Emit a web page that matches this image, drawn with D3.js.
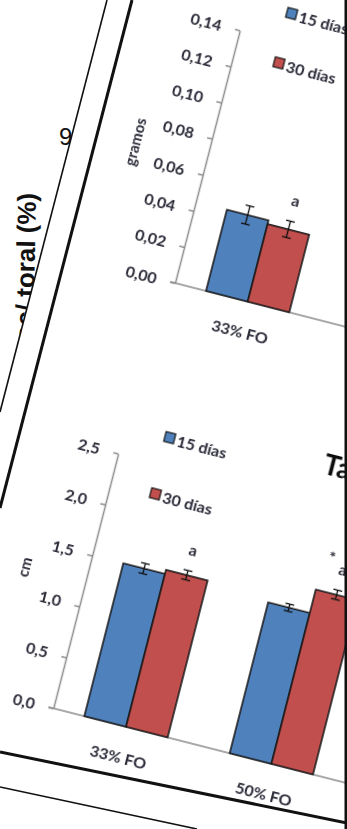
<!DOCTYPE html>
<html>
<head>
<meta charset="utf-8">
<script src="https://cdn.jsdelivr.net/npm/d3@7"></script>
<style>
  html, body { margin: 0; padding: 0; background: #fff; }
  svg { display: block; }
</style>
</head>
<body>
<svg id="page" width="347" height="829"></svg>
<script>
// Shared categories and series
const categories = ["33% FO", "50% FO"];
const seriesNames = ["15 días", "30 días"];
const seriesColors = ["#4f81bd", "#c0504d"];

// Peso (gramos)
const pesoMedia15 = [0.045];
const pesoMedia30 = [0.043];
const pesoError15 = [0.005];
const pesoError30 = [0.0045];
const pesoTicks = [0, 0.02, 0.04, 0.06, 0.08, 0.10, 0.12, 0.14];
const pesoLetters = [{ cat: "33% FO", serie: "30 días", text: "a" }];

// Talla (cm)
const tallaMedia15 = [1.50, 1.48];
const tallaMedia30 = [1.54, 1.71];
const tallaError15 = [0.05, 0.035];
const tallaError30 = [0.045, 0.045];
const tallaTicks = [0, 0.5, 1.0, 1.5, 2.0, 2.5];
const tallaLetters = [
  { cat: "33% FO", serie: "30 días", text: "a" },
  { cat: "50% FO", serie: "30 días", text: "a" }
];
const tallaMarks = [{ cat: "50% FO", text: "*" }];

const svg = d3.select("#page");
svg.append("rect").attr("width", 347).attr("height", 829).attr("fill", "#fff");

const defs = svg.append("defs");
defs.append("filter").attr("id", "soft")
  .append("feGaussianBlur").attr("stdDeviation", 0.45);
defs.append("clipPath").attr("id", "leftPage")
  .append("polygon").attr("points", "0,0 107,0 0,412");

// Facing page, seen along the left margin
const leftPage = svg.append("g").attr("clip-path", "url(#leftPage)");
leftPage.append("text")
  .attr("x", 59).attr("y", 145)
  .attr("font-family", "Liberation Sans").attr("font-size", 24)
  .attr("fill", "#111").text("9");
leftPage.append("text")
  .attr("transform", "translate(36,193) rotate(-89)")
  .attr("text-anchor", "end")
  .attr("font-family", "Liberation Sans").attr("font-weight", "bold")
  .attr("font-size", 26).attr("fill", "#111")
  .text("sec/ toral (%)");

// Page edges and figure frame
const edges = svg.append("g").attr("stroke", "#111").attr("fill", "none");
edges.append("line").attr("x1", 107).attr("y1", 0).attr("x2", 0).attr("y2", 412).attr("stroke-width", 1.6);
edges.append("line").attr("x1", 132).attr("y1", 0).attr("x2", 0).attr("y2", 508).attr("stroke-width", 3);
edges.append("line").attr("x1", 0).attr("y1", 752).attr("x2", 347).attr("y2", 823).attr("stroke-width", 3);
edges.append("line").attr("x1", 0).attr("y1", 787).attr("x2", 197).attr("y2", 829).attr("stroke-width", 1.6);

function drawChart(cfg) {
  const g = svg.append("g")
    .attr("transform", `translate(${cfg.ox},${cfg.oy}) rotate(${cfg.angle})`)
    .attr("filter", "url(#soft)");

  const x0 = d3.scaleBand().domain(categories).range([0, 300])
    .paddingInner(0.427).paddingOuter(0.2135);
  const x1 = d3.scaleBand().domain(seriesNames).range([0, x0.bandwidth()]);
  const y = d3.scaleLinear().domain([0, cfg.max]).range([0, -cfg.height]);

  const fmt = v => d3.format(cfg.fmt)(v).replace(".", ",");
  const axis = d3.axisLeft(y).tickValues(cfg.ticks).tickSize(5)
    .tickSizeOuter(0).tickPadding(14).tickFormat(fmt);
  const ag = g.append("g").call(axis);
  ag.attr("font-family", "Lato").attr("font-size", 16).attr("font-weight", "bold");
  ag.select(".domain").attr("stroke", "#8c8c8c").attr("stroke-width", 1.5);
  ag.selectAll(".tick line").attr("stroke", "#8c8c8c").attr("stroke-width", 1.5);
  ag.selectAll(".tick text").attr("fill", "#2a2a38");

  g.append("line").attr("x1", -5).attr("x2", 470).attr("y1", 0).attr("y2", 0)
    .attr("stroke", "#8c8c8c").attr("stroke-width", 1.5);

  // bars + error bars
  const rows = [];
  cfg.means.forEach((arr, s) => {
    arr.forEach((v, i) => rows.push({
      cat: categories[i], serie: seriesNames[s], color: seriesColors[s],
      v, e: cfg.errors[s][i]
    }));
  });
  const cx = d => x0(d.cat) + x1(d.serie) + x1.bandwidth() / 2;
  const shownCats = categories.filter(c => rows.some(r => r.cat === c));

  g.append("g").selectAll("rect").data(rows).join("rect")
    .attr("x", d => x0(d.cat) + x1(d.serie))
    .attr("y", d => y(d.v))
    .attr("width", x1.bandwidth())
    .attr("height", d => -y(d.v))
    .attr("fill", d => d.color)
    .attr("stroke", "#141414").attr("stroke-width", 1.5);

  const eb = g.append("g").attr("stroke", "#111").attr("stroke-width", 1.3);
  rows.forEach(d => {
    eb.append("line").attr("x1", cx(d)).attr("x2", cx(d))
      .attr("y1", y(d.v - d.e)).attr("y2", y(d.v + d.e));
    [d.v - d.e, d.v + d.e].forEach(t => eb.append("line")
      .attr("x1", cx(d) - 4.5).attr("x2", cx(d) + 4.5)
      .attr("y1", y(t)).attr("y2", y(t)));
  });

  // significance letters
  cfg.letters.forEach(l => {
    const d = rows.find(r => r.cat === l.cat && r.serie === l.serie);
    g.append("text").attr("x", cx(d)).attr("y", y(d.v + d.e) - 15)
      .attr("text-anchor", "middle")
      .attr("font-family", "Lato").attr("font-size", 16).attr("font-weight", "bold")
      .attr("fill", "#2a2a38").text(l.text);
  });
  (cfg.marks || []).forEach(m => {
    const top = d3.max(rows.filter(r => r.cat === m.cat), r => r.v + r.e);
    g.append("text").attr("x", x0(m.cat) + x0.bandwidth() / 2 + 8)
      .attr("y", y(top) - 25)
      .attr("text-anchor", "middle")
      .attr("font-family", "Lato").attr("font-size", 16).attr("font-weight", "bold")
      .attr("fill", "#2a2a38").text(m.text);
  });

  // category labels
  g.append("g").selectAll("text").data(shownCats).join("text")
    .attr("x", d => x0(d) + x0.bandwidth() / 2).attr("y", 30)
    .attr("text-anchor", "middle").attr("dominant-baseline", "central")
    .attr("font-family", "Lato").attr("font-size", 16).attr("font-weight", "bold")
    .attr("fill", "#2a2a38").text(d => d);

  // axis title
  g.append("text")
    .attr("transform", `translate(${cfg.titleU},${-cfg.titleV}) rotate(-90)`)
    .attr("text-anchor", "middle").attr("dominant-baseline", "central")
    .attr("font-family", "Lato").attr("font-size", 15).attr("font-weight", "bold")
    .attr("fill", "#2a2a38").text(cfg.unit);

  // legend
  const lg = g.append("g");
  seriesNames.forEach((s, i) => {
    const ly = -cfg.legendV[i];
    lg.append("rect").attr("x", 41).attr("y", ly - 5).attr("width", 10).attr("height", 10)
      .attr("fill", seriesColors[i]).attr("stroke", "#141414").attr("stroke-width", 1.2);
    lg.append("text").attr("x", 54).attr("y", ly)
      .attr("dominant-baseline", "central")
      .attr("font-family", "Lato").attr("font-size", 16).attr("font-weight", "bold")
      .attr("fill", "#2a2a38").text(s);
  });

  if (cfg.title) {
    g.append("text").attr("x", 202).attr("y", -294)
      .attr("font-family", "Lato").attr("font-size", 28).attr("font-weight", "bold")
      .attr("fill", "#111").text(cfg.title);
  }
}

drawChart({
  ox: 175, oy: 283, angle: 14.4, height: 261, max: 0.14,
  ticks: pesoTicks, fmt: ".2f",
  means: [pesoMedia15, pesoMedia30], errors: [pesoError15, pesoError30],
  letters: pesoLetters, unit: "gramos", titleU: -74, titleV: 127,
  legendV: [290, 239]
});

drawChart({
  ox: 53.3, oy: 708.3, angle: 14.3, height: 263, max: 2.5,
  ticks: tallaTicks, fmt: ".1f",
  means: [tallaMedia15, tallaMedia30], errors: [tallaError15, tallaError30],
  letters: tallaLetters, marks: tallaMarks, unit: "cm", titleU: -63, titleV: 130,
  legendV: [291, 233], title: "Talla"
});

// right-hand border of the frame
svg.append("rect").attr("x", 344.5).attr("y", 0).attr("width", 3).attr("height", 829).attr("fill", "#111");
</script>
</body>
</html>
